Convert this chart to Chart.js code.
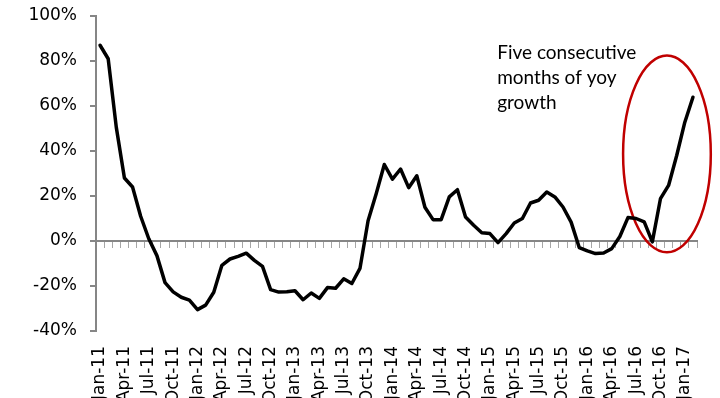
<!DOCTYPE html>
<html>
<head>
<meta charset="utf-8">
<script src="https://cdn.jsdelivr.net/npm/chart.js@4"></script>
<style>
  html, body { margin: 0; padding: 0; background: #fff; }
  #wrap { width: 720px; height: 398px; }
</style>
</head>
<body>
<div id="wrap"><canvas id="growthChart" width="720" height="398"></canvas></div>
<script>
// Monthly year-on-year growth, Jan-11 .. Feb-17
const months = [
  'Jan-11', 'Feb-11', 'Mar-11', 'Apr-11', 'May-11', 'Jun-11', 'Jul-11', 'Aug-11', 'Sep-11', 'Oct-11', 'Nov-11', 'Dec-11',
  'Jan-12', 'Feb-12', 'Mar-12', 'Apr-12', 'May-12', 'Jun-12', 'Jul-12', 'Aug-12', 'Sep-12', 'Oct-12', 'Nov-12', 'Dec-12',
  'Jan-13', 'Feb-13', 'Mar-13', 'Apr-13', 'May-13', 'Jun-13', 'Jul-13', 'Aug-13', 'Sep-13', 'Oct-13', 'Nov-13', 'Dec-13',
  'Jan-14', 'Feb-14', 'Mar-14', 'Apr-14', 'May-14', 'Jun-14', 'Jul-14', 'Aug-14', 'Sep-14', 'Oct-14', 'Nov-14', 'Dec-14',
  'Jan-15', 'Feb-15', 'Mar-15', 'Apr-15', 'May-15', 'Jun-15', 'Jul-15', 'Aug-15', 'Sep-15', 'Oct-15', 'Nov-15', 'Dec-15',
  'Jan-16', 'Feb-16', 'Mar-16', 'Apr-16', 'May-16', 'Jun-16', 'Jul-16', 'Aug-16', 'Sep-16', 'Oct-16', 'Nov-16', 'Dec-16',
  'Jan-17', 'Feb-17'
];

const growth = [
  87, 81, 50.5, 28, 24, 11, 1, -6.5, -18.5, -22.6, -25, -26.3,
  -30.5, -28.5, -22.8, -10.8, -8, -6.8, -5.4, -8.6, -11.3, -21.6, -22.7, -22.6,
  -22.1, -26.1, -23.1, -25.5, -20.7, -21, -16.8, -18.9, -12.2, 9, 21, 34,
  27.5, 32, 23.7, 29, 15, 9.5, 9.5, 19.6, 22.8, 10.7, 7, 3.7,
  3.3, -0.7, 3.3, 8, 10, 16.9, 18.1, 21.8, 19.6, 15.1, 8.4, -2.9,
  -4.4, -5.6, -5.3, -3.4, 2, 10.4, 10, 8.5, -0.4, 18.8, 24.7, 38,
  52.8, 63.9
];

const yTicks = [-40, -20, 0, 20, 40, 60, 80, 100];
const labelEvery = 3;

// callout text and the ring around the last five months (in category index / % units)
const note = ['Five consecutive', 'months of yoy', 'growth'];
const noteAt = { index: 48.9, value: 83.8, step: 11.1 };
const ring = { index: 69.8, value: 38.7, halfSpan: 5.4, halfRange: 43.7 };

const tickFont = { family: 'DejaVu Sans', size: 17 };
const axisGrey = '#868686';

// keep label overhang from shrinking the plot area
const noOverhang = (scale) => {
  scale.paddingTop = 0;
  scale.paddingBottom = 0;
  scale.paddingLeft = 0;
  scale.paddingRight = 0;
};

const calloutPlugin = {
  id: 'callout',
  beforeDatasetsDraw(chart) {
    const { ctx, scales: { x, y } } = chart;
    const cx = x.getPixelForValue(ring.index);
    const cy = y.getPixelForValue(ring.value);
    const rx = x.getPixelForValue(ring.index + ring.halfSpan) - cx;
    const ry = cy - y.getPixelForValue(ring.value + ring.halfRange);
    ctx.save();
    ctx.beginPath();
    ctx.ellipse(cx, cy, rx, ry, 0, 0, Math.PI * 2);
    ctx.strokeStyle = '#c00000';
    ctx.lineWidth = 2.5;
    ctx.stroke();
    ctx.restore();
  },
  afterDraw(chart) {
    const { ctx, scales: { x, y } } = chart;
    ctx.save();
    ctx.font = '19px Lato';
    ctx.fillStyle = '#000';
    ctx.textAlign = 'left';
    ctx.textBaseline = 'middle';
    const left = x.getPixelForValue(noteAt.index);
    note.forEach((line, i) => {
      ctx.fillText(line, left, y.getPixelForValue(noteAt.value - i * noteAt.step));
    });
    ctx.restore();
  }
};

const ctx = document.getElementById('growthChart').getContext('2d');

const growthChart = new Chart(ctx, {
  type: 'line',
  data: {
    labels: months,
    datasets: [{
      data: growth,
      xAxisID: 'x',
      yAxisID: 'y',
      borderColor: '#000',
      borderWidth: 3.5,
      borderJoinStyle: 'round',
      borderCapStyle: 'round',
      pointRadius: 0,
      tension: 0,
      fill: false
    }]
  },
  options: {
    responsive: false,
    animation: false,
    devicePixelRatio: 1,
    layout: { padding: { top: 16, right: 23, bottom: 0, left: 0 } },
    plugins: {
      legend: { display: false },
      tooltip: { enabled: false }
    },
    scales: {
      // axis line sitting on 0% with a small tick for every month
      x: {
        type: 'category',
        position: { y: 0 },
        offset: true,
        grid: {
          display: true,
          drawOnChartArea: false,
          drawTicks: true,
          tickLength: 6,
          color: '#a6a6a6',
          lineWidth: 1,
          offset: true
        },
        border: { display: true, color: axisGrey, width: 2 },
        ticks: { display: false, autoSkip: false },
        afterFit: noOverhang
      },
      // month labels along the bottom edge
      x2: {
        type: 'category',
        position: 'bottom',
        offset: true,
        grid: { display: false, drawTicks: false },
        border: { display: false },
        ticks: {
          autoSkip: false,
          minRotation: 90,
          maxRotation: 90,
          padding: 15,
          color: '#000',
          font: tickFont,
          callback: (v, i) => (i % labelEvery === 0 ? months[i] : '')
        },
        afterFit: (scale) => { noOverhang(scale); scale.height = 67; }
      },
      y: {
        min: yTicks[0],
        max: yTicks[yTicks.length - 1],
        afterBuildTicks: (scale) => { scale.ticks = yTicks.map(v => ({ value: v })); },
        afterFit: (scale) => { noOverhang(scale); scale.width = 96; },
        grid: {
          drawOnChartArea: false,
          drawTicks: true,
          tickLength: 6,
          color: axisGrey,
          lineWidth: 2
        },
        border: { color: axisGrey, width: 2 },
        ticks: {
          padding: 13,
          color: '#000',
          font: tickFont,
          callback: v => v + '%'
        }
      }
    }
  },
  plugins: [calloutPlugin]
});
</script>
</body>
</html>
